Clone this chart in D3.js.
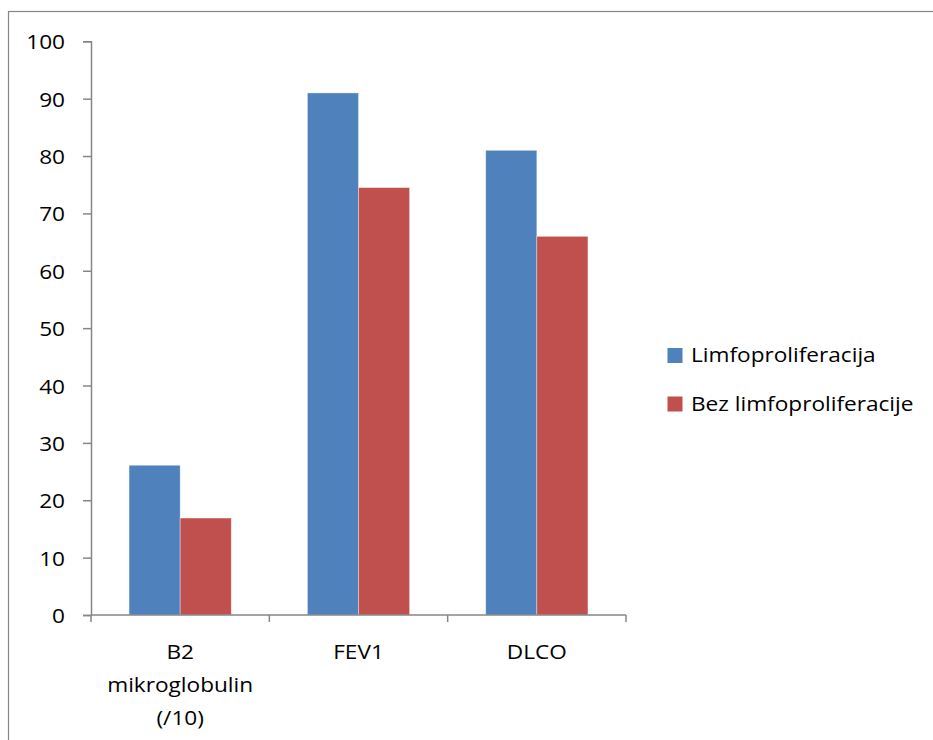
<!DOCTYPE html>
<html>
<head>
<meta charset="utf-8">
<script src="https://cdn.jsdelivr.net/npm/d3@7/dist/d3.min.js"></script>
<style>
  html, body { margin: 0; padding: 0; background: #fff; }
  svg { display: block; }
  text { font-family: "Open Sans", "Noto Sans", sans-serif; fill: #000; }
</style>
</head>
<body>
<svg id="chart" width="933" height="740"></svg>
<script>
// Chart data
const categories = [["B2", "mikroglobulin", "(/10)"], ["FEV1"], ["DLCO"]];
const seriesNames = ["Limfoproliferacija", "Bez limfoproliferacije"];
const limfoValues = [26.1, 91.0, 81.0];
const bezLimfoValues = [16.9, 74.5, 66.0];
const yTicks = [0, 10, 20, 30, 40, 50, 60, 70, 80, 90, 100];
const colors = ["#4F81BD", "#C0504D"];

const svg = d3.select("#chart");
const axisColor = "#868686";
const fontSize = 19.5;
const stretch = 1.16;   // wide-set lettering

// Outer frame (runs off the right and bottom edges)
svg.append("rect")
  .attr("x", 8.5).attr("y", 11.5)
  .attr("width", 1000).attr("height", 1000)
  .attr("fill", "none").attr("stroke", axisColor).attr("stroke-width", 1.2);

const plot = { left: 91, right: 626, top: 41.3, bottom: 615 };

const x0 = d3.scaleBand()
  .domain(d3.range(categories.length))
  .range([plot.left, plot.right])
  .padding(0);

const x1 = d3.scaleBand()
  .domain(d3.range(seriesNames.length))
  .range([0, x0.bandwidth()])
  .paddingInner(0)
  .paddingOuter(0.745);

const y = d3.scaleLinear().domain([0, 100]).range([plot.bottom, plot.top]);

const seriesValues = [limfoValues, bezLimfoValues];

// Bars
const groups = svg.append("g").selectAll("g")
  .data(d3.range(categories.length))
  .join("g")
  .attr("transform", i => `translate(${x0(i)},0)`);

groups.selectAll("rect")
  .data(i => seriesValues.map((vals, s) => ({ s, v: vals[i] })))
  .join("rect")
  .attr("x", d => x1(d.s))
  .attr("y", d => y(d.v))
  .attr("width", x1.bandwidth())
  .attr("height", d => y(0) - y(d.v))
  .attr("fill", d => colors[d.s])
  .attr("stroke", "rgba(255,255,255,0.45)")
  .attr("stroke-width", 0.8);

// Y axis
const yAxis = d3.axisLeft(y).tickValues(yTicks).tickSize(8);
const yg = svg.append("g").attr("transform", `translate(${plot.left},0)`).call(yAxis);
yg.select(".domain").attr("stroke", axisColor).attr("stroke-width", 1.5);
yg.selectAll(".tick line").attr("stroke", axisColor).attr("stroke-width", 1.5);
yg.selectAll(".tick text")
  .attr("x", 0).attr("dy", null)
  .attr("text-anchor", "end")
  .attr("transform", `translate(-26,7.5) scale(${stretch},1)`)
  .attr("font-size", fontSize)
  .attr("font-family", "'Open Sans', 'Noto Sans', sans-serif")
  .attr("fill", "#000");

// X axis
const xEdges = d3.range(categories.length + 1).map(i =>
  i < categories.length ? x0(i) : x0(categories.length - 1) + x0.bandwidth());
const xg = svg.append("g");
xg.append("line")
  .attr("x1", plot.left).attr("x2", plot.right)
  .attr("y1", y(0)).attr("y2", y(0))
  .attr("stroke", axisColor).attr("stroke-width", 1.5);
xg.selectAll("line.tick")
  .data(xEdges)
  .join("line")
  .attr("class", "tick")
  .attr("x1", d => d).attr("x2", d => d)
  .attr("y1", y(0)).attr("y2", y(0) + 7)
  .attr("stroke", axisColor).attr("stroke-width", 1.5);

// Category labels
const labels = svg.append("g").selectAll("text")
  .data(categories)
  .join("text")
  .attr("text-anchor", "middle")
  .attr("font-size", fontSize)
  .attr("transform", (d, i) => `translate(${x0(i) + x0.bandwidth() / 2},659) scale(${stretch},1)`);
labels.selectAll("tspan")
  .data(d => d)
  .join("tspan")
  .attr("x", 0)
  .attr("dy", (d, j) => j === 0 ? 0 : 32.8)
  .text(d => d);

// Legend
const legend = svg.append("g").selectAll("g")
  .data(seriesNames)
  .join("g")
  .attr("transform", (d, i) => `translate(667.5,${348 + i * 48.5})`);
legend.append("rect")
  .attr("width", 15).attr("height", 15)
  .attr("fill", (d, i) => colors[i]);
legend.append("text")
  .attr("transform", `translate(23.5,14) scale(${stretch},1)`)
  .attr("font-size", fontSize)
  .text(d => d);
</script>
</body>
</html>
